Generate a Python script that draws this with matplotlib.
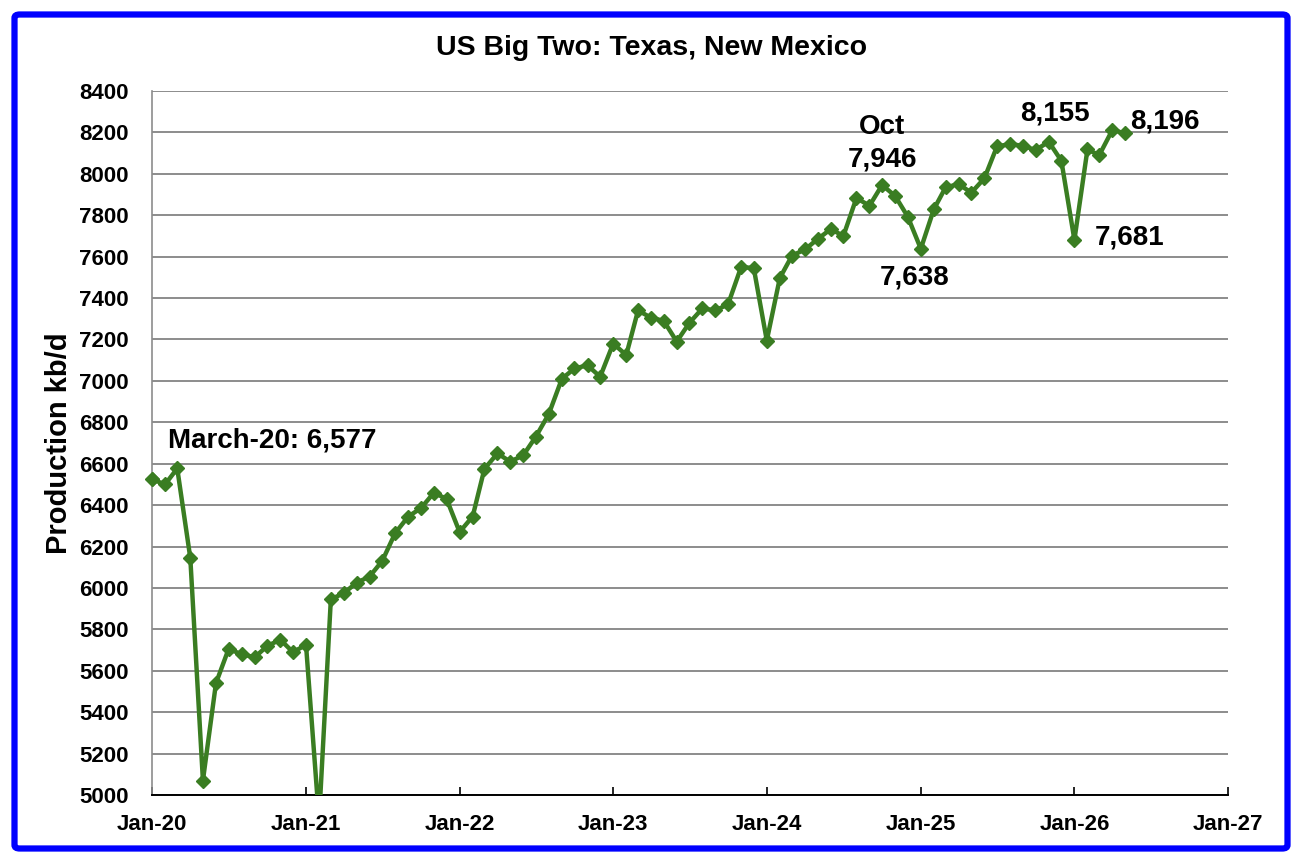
import datetime as dt
import matplotlib
matplotlib.use("Agg")
import matplotlib.pyplot as plt
import matplotlib.dates as mdates
from matplotlib.patches import FancyBboxPatch

# Production kb/d, monthly from Jan 2020
start_year, start_month = 2020, 1
production = [
    # 2020
    6525, 6500, 6577, 6145, 5070, 5540, 5705, 5680, 5665, 5720, 5750, 5690,
    # 2021
    5725, 4880, 5945, 5975, 6025, 6055, 6130, 6265, 6345, 6385, 6460, 6430,
    # 2022
    6270, 6345, 6575, 6650, 6610, 6640, 6730, 6840, 7010, 7060, 7075, 7020,
    # 2023
    7180, 7125, 7340, 7305, 7290, 7190, 7280, 7350, 7340, 7370, 7550, 7545,
    # 2024
    7195, 7497, 7605, 7635, 7685, 7733, 7700, 7883, 7846, 7946, 7893, 7793,
    # 2025
    7638, 7829, 7935, 7950, 7909, 7978, 8132, 8144, 8135, 8115, 8155, 8063,
    # 2026
    7681, 8118, 8090, 8211, 8196,
]

months = []
for i in range(len(production)):
    m = start_month - 1 + i
    months.append(dt.date(start_year + m // 12, m % 12 + 1, 1))

# labels: (index of point, text, offset in px)
labels = [
    (2, "March-20: 6,577", (-9, 28), "left"),
    (57, "Oct", (0, 58), "center"),
    (57, "7,946", (0, 26), "center"),
    (60, "7,638", (-6, -29), "center"),
    (70, "8,155", (6, 28), "center"),
    (72, "7,681", (20, 2), "left"),
    (76, "8,196", (5, 12), "left"),
]

plt.rcParams["font.family"] = ["Liberation Sans", "DejaVu Sans"]
plt.rcParams["font.weight"] = "bold"

fig = plt.figure(figsize=(13.04, 8.64), dpi=100)
ax = fig.add_axes([152 / 1304, 1 - 795 / 864, (1228 - 152) / 1304, (795 - 91) / 864])

verde = "#3A7D22"
ax.plot(months, production, color=verde, linewidth=3.2, marker="D",
        markersize=7, markerfacecolor=verde, markeredgecolor=verde, zorder=3)
# first diamond sits on the axis and is drawn whole
ax.plot(months[:1], production[:1], linestyle="none", marker="D", markersize=7,
        color=verde, clip_on=False, zorder=4)

ax.set_ylim(5000, 8400)
ax.set_yticks(range(5000, 8401, 200))
ax.set_xlim(dt.date(2020, 1, 1), dt.date(2027, 1, 1))
ax.xaxis.set_major_locator(mdates.YearLocator())
ax.xaxis.set_major_formatter(mdates.DateFormatter("%b-%y"))

ax.grid(True, axis="y", color="#8c8c8c", linewidth=1.4)
ax.set_axisbelow(True)
for lado in ["top", "right"]:
    ax.spines[lado].set_visible(False)
ax.spines["left"].set_color("#8c8c8c")
ax.spines["left"].set_linewidth(1.2)
ax.spines["bottom"].set_color("black")
ax.spines["bottom"].set_linewidth(1.4)

ax.tick_params(axis="y", length=0, pad=17, labelsize=16)
ax.tick_params(axis="x", direction="in", length=6, width=1.2, pad=14, labelsize=16)
for t in ax.get_xticklabels() + ax.get_yticklabels():
    t.set_fontweight("bold")

ax.set_ylabel("Production kb/d", fontsize=21, fontweight="bold", labelpad=4)

for idx, txt, (dx, dy), ha in labels:
    ax.annotate(txt, xy=(months[idx], production[idx]), xytext=(dx * 0.72, dy * 0.72),
                textcoords="offset points", ha=ha, va="center",
                fontsize=20, fontweight="bold", color="black")

fig.text(0.5, 1 - 48 / 864, "US Big Two: Texas, New Mexico", ha="center", va="center",
         fontsize=20.5, fontweight="bold")

# blue frame around the whole chart
borda = FancyBboxPatch((14.5 / 1304, 15.5 / 864), (1287.5 - 14.5) / 1304, (849.5 - 15.5) / 864,
                       boxstyle="round,pad=0,rounding_size=0.004", transform=fig.transFigure,
                       fill=False, edgecolor="#0000FF", linewidth=4.5, zorder=10)
fig.patches.append(borda)

fig.savefig("out.png", dpi=100)
